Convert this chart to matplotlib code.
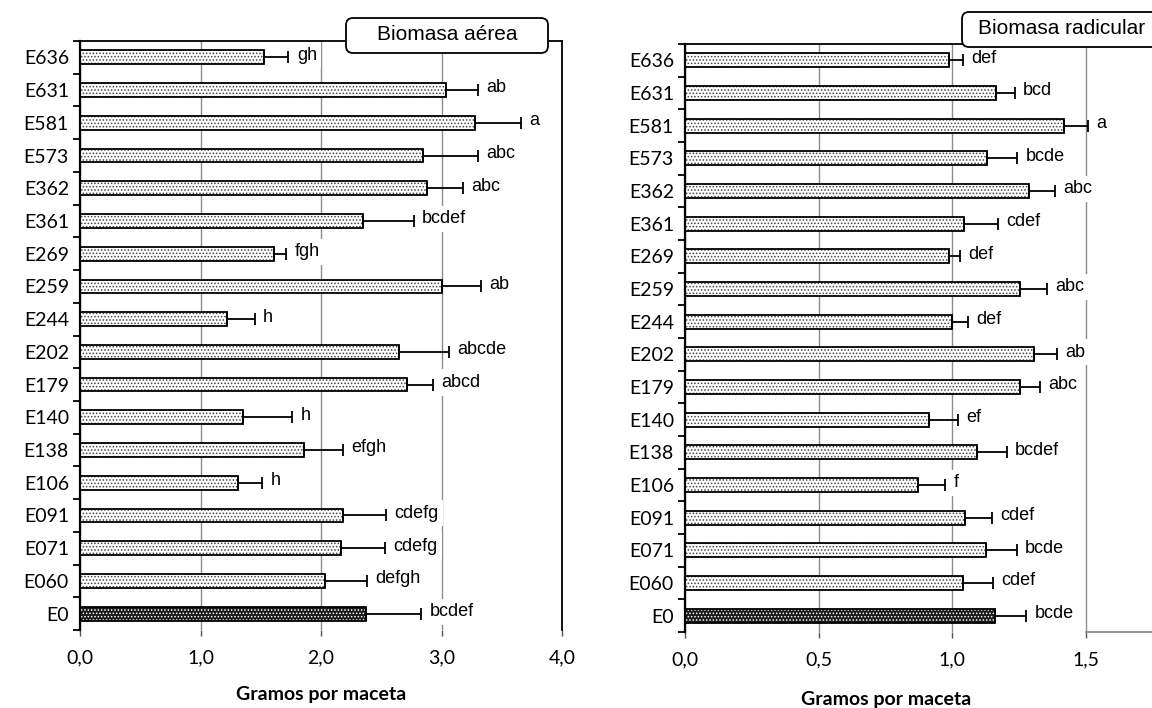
import matplotlib.pyplot as plt
from matplotlib.patches import FancyBboxPatch
import numpy as np

plt.rcParams['font.family'] = ['Lato', 'DejaVu Sans']
plt.rcParams['hatch.linewidth'] = 0.7

# datos (de arriba hacia abajo)
clones = ['E636', 'E631', 'E581', 'E573', 'E362', 'E361', 'E269', 'E259', 'E244',
          'E202', 'E179', 'E140', 'E138', 'E106', 'E091', 'E071', 'E060', 'E0']

aerea = [1.53, 3.04, 3.28, 2.85, 2.88, 2.35, 1.61, 3.00, 1.22,
         2.65, 2.71, 1.35, 1.86, 1.31, 2.18, 2.17, 2.03, 2.37]
aerea_err = [0.20, 0.26, 0.38, 0.45, 0.30, 0.42, 0.10, 0.33, 0.23,
             0.41, 0.22, 0.41, 0.32, 0.20, 0.36, 0.36, 0.35, 0.46]
aerea_let = ['gh', 'ab', 'a', 'abc', 'abc', 'bcdef', 'fgh', 'ab', 'h',
             'abcde', 'abcd', 'h', 'efgh', 'h', 'cdefg', 'cdefg', 'defgh', 'bcdef']

radicular = [0.99, 1.165, 1.42, 1.13, 1.29, 1.046, 0.99, 1.256, 1.00,
             1.307, 1.256, 0.914, 1.095, 0.874, 1.048, 1.126, 1.042, 1.162]
radicular_err = [0.05, 0.07, 0.09, 0.115, 0.095, 0.125, 0.04, 0.10, 0.06,
                 0.085, 0.075, 0.11, 0.11, 0.10, 0.10, 0.117, 0.112, 0.117]
radicular_let = ['def', 'bcd', 'a', 'bcde', 'abc', 'cdef', 'def', 'abc', 'def',
                 'ab', 'abc', 'ef', 'bcdef', 'f', 'cdef', 'bcde', 'cdef', 'bcde']


def panel(ax, vals, errs, letters, xmax, step):
    n = len(clones)
    y = np.arange(n)[::-1]
    vals = np.array(vals)
    errs = np.array(errs)
    control = np.array([c == 'E0' for c in clones])
    h = 0.42

    # relleno punteado
    ax.barh(y[~control], vals[~control], height=h, color='white',
            edgecolor='#444444', hatch='.....', linewidth=0, zorder=2)
    ax.barh(y[control], vals[control], height=h, color='#1a1a1a',
            edgecolor='white', hatch='.....', linewidth=0, zorder=2)
    ax.barh(y, vals, height=h, fill=False, edgecolor='black', linewidth=1.3, zorder=3)

    ax.errorbar(vals, y, xerr=[np.zeros(n), errs], fmt='none', ecolor='black',
                elinewidth=1.3, capsize=4, capthick=1.3, zorder=3)

    for yi, v, e, t in zip(y, vals, errs, letters):
        ax.annotate(t, (v + e, yi), xytext=(6, 1.5), textcoords='offset points',
                    ha='left', va='center', fontsize=13, family='Liberation Sans',
                    bbox=dict(boxstyle='square,pad=0.25', fc='white', ec='none'),
                    zorder=4)

    ax.set_ylim(-0.5, n - 0.5)
    ax.set_xlim(0, xmax)
    ticks = np.arange(0, xmax + step / 2, step)
    ax.set_xticks(ticks)
    ax.set_xticklabels([f'{t:.1f}'.replace('.', ',') for t in ticks], fontsize=14)
    ax.set_yticks(y)
    ax.set_yticklabels(clones, fontsize=14)
    ax.set_yticks(np.arange(-0.5, n, 1), minor=True)
    ax.tick_params(axis='y', which='major', length=0, pad=8)
    ax.tick_params(axis='y', which='minor', length=5, width=1.3, direction='out')
    ax.tick_params(axis='x', length=4, width=1, color='#555555', pad=10)

    ax.set_axisbelow(True)
    ax.xaxis.grid(True, color='#8c8c8c', linewidth=1)
    ax.spines['left'].set_linewidth(1.6)
    ax.spines['top'].set_linewidth(1.3)
    ax.spines['right'].set_linewidth(1.3)
    ax.spines['bottom'].set_visible(False)
    ax.set_xlabel('Gramos por maceta', fontsize=14, fontweight='bold', labelpad=14)


fig = plt.figure(figsize=(11.52, 7.08), dpi=100)

ax1 = fig.add_axes([80 / 1152, 78 / 708, 482 / 1152, 589 / 708])
panel(ax1, aerea, aerea_err, aerea_let, 4.0, 1.0)

ax2 = fig.add_axes([685 / 1152, 76 / 708, 534 / 1152, 588 / 708])
panel(ax2, radicular, radicular_err, radicular_let, 2.0, 0.5)
ax2.set_xticks([0, 0.5, 1.0, 1.5])
ax2.set_xticklabels(['0,0', '0,5', '1,0', '1,5'], fontsize=14)
ax2.spines['right'].set_visible(False)
ax2.axhline(-0.5, xmin=0.75, xmax=1.0, color='#8c8c8c', linewidth=1.3, clip_on=False)
ax2.xaxis.set_label_coords(0.376, -0.1)

# recuadros de título
for (x0, y0, w, txt, tx, ty) in [(3.46, 6.55, 2.02, 'Biomasa aérea', 4.47, 6.73),
                                 (9.62, 6.61, 2.10, 'Biomasa radicular', 10.62, 6.79)]:
    box = FancyBboxPatch((x0, y0), w, 0.35, boxstyle='round,pad=0,rounding_size=0.07',
                         transform=fig.dpi_scale_trans, fc='white', ec='black',
                         linewidth=1.3, zorder=5)
    fig.add_artist(box)
    fig.text(tx / 11.52, ty / 7.08, txt, ha='center', va='center', fontsize=15,
             family='Liberation Sans', zorder=6)

fig.savefig('out.png', dpi=100)
